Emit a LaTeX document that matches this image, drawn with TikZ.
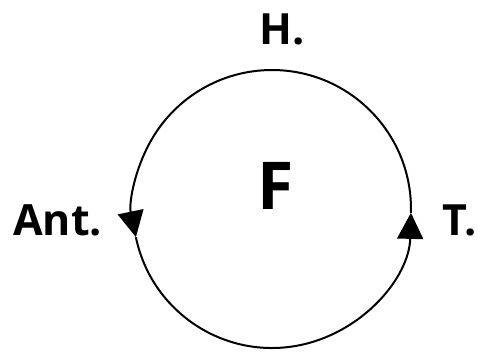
\documentclass[tikz,border=0pt]{standalone}
\usepackage{fontspec}
\setmainfont{Open Sans}
\usepackage{tikz}
\usetikzlibrary{
	arrows.meta,
	calc,
	positioning
}

\begin{document}
\begin{tikzpicture}[x=1pt, y=1pt,
	cyc/.style={line width=2pt, -{Triangle[length=26pt, width=26pt]}},
	lab/.style={font=\bfseries\fontsize{43}{43}\selectfont, inner sep=0pt, anchor=base}
	]
	\useasboundingbox (0,0) rectangle (483,354);
	\coordinate (O) at (272,145);
	\coordinate (T) at ($(O)+(-1.6:139)$);
	\coordinate (A) at ($(O)+(191.7:139)$);
	\node[lab] (h) at (282,309) {H.};
	\node[lab, font=\bfseries\fontsize{66}{66}\selectfont] (f) at (276,144) {F};
	\node[lab, anchor=base west] (ant) at (13,118) {Ant.};
	\node[lab, anchor=base west] (t) at (442,118) {T.};
	\draw[cyc] (T) arc[start angle=-1.6, end angle=191.7, radius=139];
	\draw[cyc] (A) arc[start angle=191.7, end angle=358.4, radius=139];
\end{tikzpicture}
\end{document}
